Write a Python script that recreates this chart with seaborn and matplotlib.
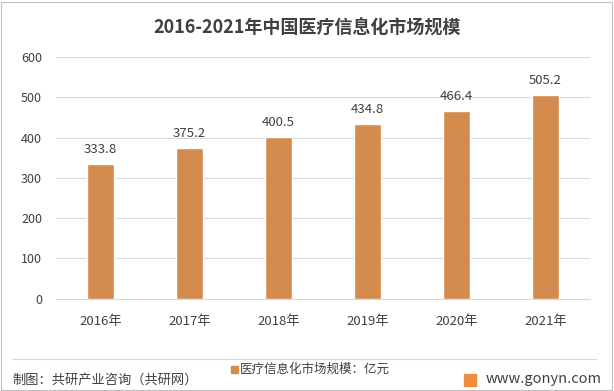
import matplotlib
matplotlib.use("Agg")
import matplotlib.pyplot as plt
import seaborn as sns
import pandas as pd
from matplotlib.patches import Rectangle

years = ["2016年", "2017年", "2018年", "2019年", "2020年", "2021年"]
values = [333.8, 375.2, 400.5, 434.8, 466.4, 505.2]
yticks = [0, 100, 200, 300, 400, 500, 600]
title = "2016-2021年中国医疗信息化市场规模"
series_name = "医疗信息化市场规模：亿元"
source = "制图：共研产业咨询（共研网）"
site = "www.gonyn.com"

sns.set_theme(style="white")
plt.rcParams["font.family"] = ["Noto Sans CJK SC", "DejaVu Sans"]

bar_color = "#D38B4E"
text_color = "#404040"

df = pd.DataFrame({"year": years, "value": values})

fig = plt.figure(figsize=(6.14, 3.91), dpi=100)
ax = fig.add_axes([0.091, 0.236, 0.870, 0.618])

sns.barplot(data=df, x="year", y="value", color=bar_color, width=0.31,
            saturation=1, ax=ax, zorder=3)

ax.set_ylim(0, 600)
ax.set_yticks(yticks)
ax.set_yticklabels([str(t) for t in yticks], fontsize=9, color=text_color)
ax.tick_params(axis="x", labelsize=9.5, colors=text_color, length=0, pad=12)
ax.tick_params(axis="y", length=0, pad=10)
ax.set_xlabel("")
ax.set_ylabel("")
ax.grid(axis="y", color="#D9D9D9", linewidth=0.8, zorder=0)
for s in ["top", "right", "left"]:
    ax.spines[s].set_visible(False)
ax.spines["bottom"].set_color("#D9D9D9")
ax.spines["bottom"].set_linewidth(0.8)

for i, v in enumerate(values):
    ax.text(i, v + 20, f"{v:.1f}", ha="center", va="bottom", fontsize=9.5,
            color=text_color)

fig.text(0.5, 0.928, title, ha="center", va="center", fontsize=13,
         fontweight="bold", color=text_color)

# separator line
fig.add_artist(plt.Line2D([12/614, 596/614], [1-359/391, 1-359/391],
                          color="#D9D9D9", linewidth=0.8))

# footer
fig.text(12/614, 1-380/391, source, ha="left", va="center", fontsize=9.5,
         color=text_color)
fig.add_artist(Rectangle((231/614, 1-373/391), 7/614, 7/391,
                         color=bar_color, transform=fig.transFigure))
fig.text(240/614, 1-369/391, series_name, ha="left", va="center",
         fontsize=9, color=text_color)
fig.add_artist(Rectangle((464/614, 1-386/391), 12/614, 12/391,
                         color="#F08A3C", transform=fig.transFigure))
fig.text(486/614, 1-379/391, site, ha="left", va="center", fontsize=10.5,
         color=text_color)

# border
fig.add_artist(Rectangle((0.002, 0.003), 0.995, 0.993, fill=False,
                         edgecolor="#BFBFBF", linewidth=0.8,
                         transform=fig.transFigure))

fig.savefig("out.png", dpi=100)
